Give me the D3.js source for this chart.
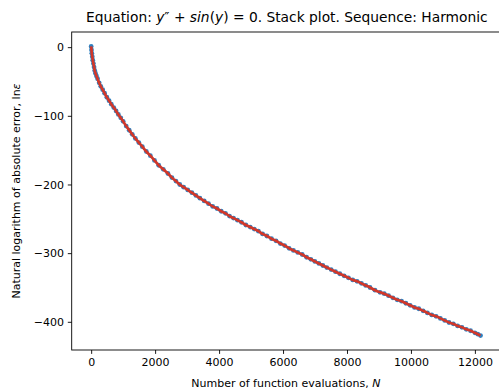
<!DOCTYPE html>
<html><head><meta charset="utf-8">
<script src="https://cdn.jsdelivr.net/npm/d3@7"></script>
<style>
body{margin:0;background:#fff;}
text{font-family:"DejaVu Sans",sans-serif;fill:#000;}
</style></head>
<body><svg id="c" width="499" height="392"></svg>
<script>
const evals = [0,10,20,35,50,70,90,110,134,165,200,250,300,360,420,490,560,630,706,780,850,925,1000,1095,1190,1285,1383,1490,1600,1725,1851,1980,2111,2255,2400,2525,2650,2770,2891,3020,3150,3275,3400,3535,3670,3800,3934,4067,4200,4325,4450,4575,4700,4837,4974,5100,5230,5360,5495,5640,5780,5915,6050,6190,6325,6460,6600,6735,6870,6995,7120,7245,7368,7505,7640,7775,7910,8045,8180,8315,8450,8585,8720,8875,9032,9165,9300,9435,9570,9705,9840,9975,10110,10245,10380,10515,10650,10785,10920,11055,11190,11325,11460,11595,11730,11865,12000,12090,12176];
const lnErr = [1,-4,-9,-14,-19,-24,-29,-34,-38,-42,-46,-52,-57,-62,-67,-73,-78,-83,-88,-93,-98,-103,-108,-115,-121,-127,-133,-139,-145,-152,-158,-165,-172,-178,-184,-190,-195,-200,-204,-208,-212,-216,-220,-224,-228,-232,-235,-239,-242,-246,-249,-252,-255,-259,-262,-265,-268,-272,-275,-279,-282,-286,-289,-293,-296,-299,-302,-306,-309,-312,-315,-318,-321,-324,-327,-330,-333,-336,-339,-341,-344,-347,-350,-354,-357,-359,-362,-365,-368,-370,-373,-376,-379,-381,-384,-387,-390,-392,-395,-398,-401,-403,-406,-408,-411,-413,-416,-418,-420];
const xTicks = [0,2000,4000,6000,8000,10000,12000];
const yTicks = [0,-100,-200,-300,-400];

const svg = d3.select("#c");
const L=71.7, R=500, T=32, B=350;
const xmin=d3.min(evals), xmax=d3.max(evals), ymin=d3.min(lnErr), ymax=d3.max(lnErr);
const mx=(xmax-xmin)*0.05, my=(ymax-ymin)*0.05;
const x = d3.scaleLinear().domain([xmin-mx, xmax+mx]).range([L,R]);
const y = d3.scaleLinear().domain([ymin-my, ymax+my]).range([B,T]);
const pts = evals.map((n,i)=>[n,lnErr[i]]);

const g = svg.append("g");
g.selectAll("circle").data(pts).join("circle")
 .attr("cx",d=>x(d[0])).attr("cy",d=>y(d[1])).attr("r",2.4).attr("fill","#2f80c0");
g.append("path").datum(pts).attr("fill","none").attr("stroke","#d0372a").attr("stroke-width",2.7)
 .attr("d",d3.line().x(d=>x(d[0])).y(d=>y(d[1])).curve(d3.curveMonotoneX));

const fmt = d=> d<0 ? "\u2212"+Math.abs(d) : String(d);
const xa = svg.append("g").attr("transform",`translate(0,${B})`)
 .call(d3.axisBottom(x).tickValues(xTicks).tickFormat(fmt).tickSize(3.9).tickPadding(3.9));
const ya = svg.append("g").attr("transform",`translate(${L},0)`)
 .call(d3.axisLeft(y).tickValues(yTicks).tickFormat(fmt).tickSize(3.9).tickPadding(3.9));
[xa,ya].forEach(a=>{a.select(".domain").remove();a.selectAll("text").attr("font-size",11).attr("font-family","DejaVu Sans").attr("fill","#000");a.selectAll("line").attr("stroke","#000").attr("stroke-width",0.9);});
svg.append("rect").attr("x",L).attr("y",T).attr("width",R-L).attr("height",B-T).attr("fill","none").attr("stroke","#000").attr("stroke-width",0.9);

const t = svg.append("text").attr("x",(L+R)/2+1).attr("y",22).attr("text-anchor","middle").attr("font-size",13.8).attr("xml:space","preserve");
t.append("tspan").text("Equation: ");
t.append("tspan").attr("font-style","italic").text("y");
t.append("tspan").text("\u2033 + ");
t.append("tspan").attr("font-style","italic").text("sin");
t.append("tspan").text("(");
t.append("tspan").attr("font-style","italic").text("y");
t.append("tspan").text(") = 0. Stack plot. Sequence: Harmonic");

const xl = svg.append("text").attr("x",(L+R)/2).attr("y",387).attr("text-anchor","middle").attr("font-size",11);
xl.append("tspan").text("Number of function evaluations, ");
xl.append("tspan").attr("font-style","italic").text("N");

const yl = svg.append("text").attr("transform",`translate(20,${(T+B)/2}) rotate(-90)`).attr("text-anchor","middle").attr("font-size",11);
yl.append("tspan").text("Natural logarithm of absolute error, ln");
yl.append("tspan").attr("font-style","italic").text("\u03b5");
</script></body></html>
